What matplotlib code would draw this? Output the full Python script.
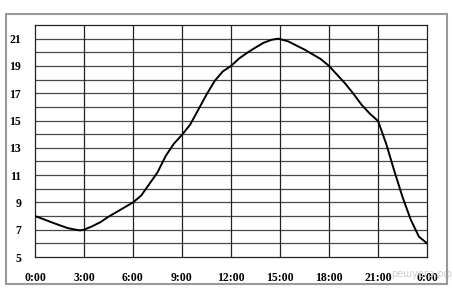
import matplotlib
matplotlib.use("Agg")
import matplotlib.pyplot as plt
from matplotlib.patches import Rectangle

# Temperature readings over a day (hours since 0:00)
hours = [0, 0.5, 1, 1.5, 2, 2.5, 2.75, 3, 3.5, 4, 4.5, 5, 5.5, 6,
         6.5, 7, 7.5, 8, 8.5, 9, 9.5, 10, 10.5, 11, 11.5, 12,
         12.5, 13, 13.5, 14, 14.5, 14.9, 15.5, 16, 16.5, 17, 17.5, 18,
         18.5, 19, 19.5, 20, 20.5, 21, 21.5, 22, 22.5, 23, 23.5, 24]
temps = [8.0, 7.78, 7.55, 7.33, 7.12, 7.0, 6.95, 7.0, 7.25, 7.55, 7.95, 8.3, 8.65, 9.0,
         9.5, 10.35, 11.2, 12.4, 13.3, 13.95, 14.7, 15.8, 16.9, 17.9, 18.6, 19.0,
         19.55, 19.97, 20.35, 20.7, 20.92, 21.0, 20.8, 20.5, 20.2, 19.85, 19.5, 19.0,
         18.35, 17.7, 16.95, 16.15, 15.5, 14.97, 13.3, 11.3, 9.4, 7.75, 6.5, 6.0]

x_ticks = [0, 3, 6, 9, 12, 15, 18, 21, 24]
x_labels = ["0:00", "3:00", "6:00", "9:00", "12:00", "15:00", "18:00", "21:00", "0:00"]
y_ticks = [5, 7, 9, 11, 13, 15, 17, 19, 21]

fig = plt.figure(figsize=(4.53, 3.01), dpi=100)
fig.patch.set_facecolor("white")

# outer grey frame
fig.patches.append(Rectangle((6 / 453, 1 - 284 / 301), 441 / 453, 270 / 301,
                             transform=fig.transFigure, fill=False,
                             edgecolor="#999999", linewidth=1.5))

ax = fig.add_axes([35 / 453, 1 - 257 / 301, 392 / 453, 232 / 301])
ax.set_xlim(0, 24)
ax.set_ylim(5, 22)

for v in range(6, 22):
    ax.axhline(v, color="#4a4a4a", linewidth=0.9, zorder=1)
for h in x_ticks[1:-1]:
    ax.axvline(h, color="#222222", linewidth=0.9, zorder=1)

ax.plot(hours, temps, color="black", linewidth=1.4, zorder=3,
        solid_joinstyle="round")

ax.set_xticks(x_ticks)
ax.set_xticklabels(x_labels)
ax.set_yticks(y_ticks)
ax.tick_params(length=0, pad=10)
ax.tick_params(axis="x", pad=11)
for lbl in ax.get_xticklabels() + ax.get_yticklabels():
    lbl.set_fontfamily("Liberation Serif")
    lbl.set_fontweight("bold")
    lbl.set_fontsize(8.5)

for s in ax.spines.values():
    s.set_color("#222222")
    s.set_linewidth(0.9)

# faint source watermark sitting behind the last x label
fig.text(452 / 453, 1 - 274 / 301, "решуегэ.рф", ha="right", va="center",
         color="#cfcfcf", fontsize=7, zorder=0)

fig.savefig("out.png", dpi=100)
